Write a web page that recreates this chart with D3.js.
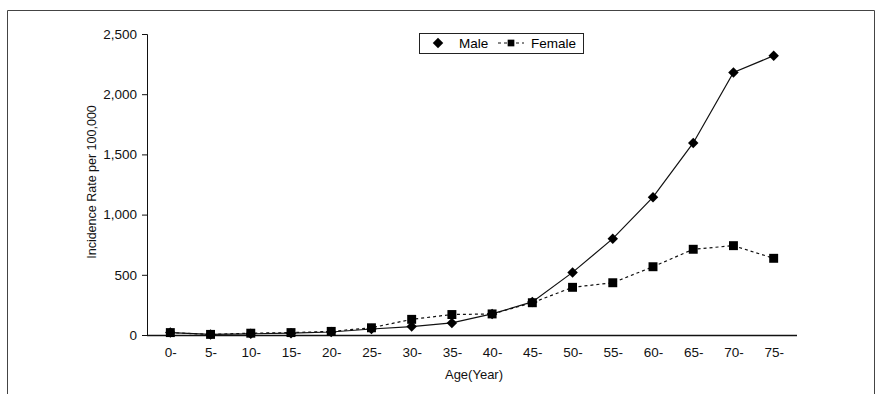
<!DOCTYPE html>
<html>
<head>
<meta charset="utf-8">
<script src="https://cdn.jsdelivr.net/npm/d3@7"></script>
<style>
  body { margin: 0; background: #fff; }
  svg { display: block; font-family: 'Liberation Sans', Arial, sans-serif; }
</style>
</head>
<body>
<svg id="chart" width="881" height="394"></svg>
<script>
// Age groups on the x axis
const ageGroups = ['0-', '5-', '10-', '15-', '20-', '25-', '30-', '35-', '40-', '45-',
  '50-', '55-', '60-', '65-', '70-', '75-'];
// Incidence per 100,000
const maleRates = [20, 5, 10, 15, 25, 50, 70, 100, 175, 275, 520, 800, 1145, 1595, 2180, 2320];
const femaleRates = [20, 5, 15, 20, 30, 60, 130, 170, 175, 268, 396, 434, 567, 712, 742, 637];
const yTicks = [0, 500, 1000, 1500, 2000, 2500];

const svg = d3.select('#chart');

// plot area
const margin = { top: 34, left: 147, right: 84, bottom: 59 };
const width = 881 - margin.left - margin.right;
const height = 394 - margin.top - margin.bottom;

// outer frame (no bottom edge)
svg.append('path')
  .attr('d', 'M7.5,394 V10.5 H874.5 V394')
  .attr('fill', 'none')
  .attr('stroke', '#444')
  .attr('stroke-width', 1);

const g = svg.append('g')
  .attr('transform', 'translate(' + margin.left + ',' + margin.top + ')');

const xScale = d3.scalePoint()
  .domain(ageGroups)
  .range([0, width])
  .padding(0.58);

const yScale = d3.scaleLinear()
  .domain([0, 2500])
  .range([height, 0]);

// y axis
const yAxis = d3.axisLeft(yScale)
  .tickValues(yTicks)
  .tickSize(5)
  .tickPadding(5)
  .tickFormat(d3.format(','));
const yG = g.append('g').call(yAxis);
yG.select('.domain').attr('d', 'M-5,0.5 H0.5 V' + height + '.5');
yG.selectAll('text').attr('font-size', 13.5).attr('fill', '#111');
yG.selectAll('line, path').attr('stroke', '#111');

// x axis
const xAxis = d3.axisBottom(xScale).tickSize(0).tickPadding(12);
const xG = g.append('g')
  .attr('transform', 'translate(0,' + height + ')')
  .call(xAxis);
xG.select('.domain').attr('d', 'M0,0.5 H' + width).attr('stroke', '#111').attr('stroke-width', 1.5);
xG.selectAll('text').attr('font-size', 13.5).attr('fill', '#111');

// axis labels
svg.append('text')
  .attr('transform', 'translate(96,182) rotate(-90)')
  .attr('text-anchor', 'middle')
  .attr('font-size', 12.5)
  .attr('fill', '#111')
  .text('Incidence Rate per 100,000');

svg.append('text')
  .attr('x', 474)
  .attr('y', 379)
  .attr('text-anchor', 'middle')
  .attr('font-size', 13)
  .attr('fill', '#111')
  .text('Age(Year)');

// lines
const line = d3.line()
  .x((d, i) => xScale(ageGroups[i]))
  .y((d) => yScale(d));

g.append('path')
  .datum(femaleRates)
  .attr('d', line)
  .attr('fill', 'none')
  .attr('stroke', '#111')
  .attr('stroke-width', 1.2)
  .attr('stroke-dasharray', '3,3');

g.append('path')
  .datum(maleRates)
  .attr('d', line)
  .attr('fill', 'none')
  .attr('stroke', '#111')
  .attr('stroke-width', 1.2);

const diamond = d3.symbol().type(d3.symbolDiamond2).size(70);
const square = d3.symbol().type(d3.symbolSquare).size(80);

g.append('g')
  .selectAll('path')
  .data(femaleRates)
  .join('path')
  .attr('transform', (d, i) => 'translate(' + xScale(ageGroups[i]) + ',' + yScale(d) + ')')
  .attr('d', square)
  .attr('fill', '#000');

g.append('g')
  .selectAll('path')
  .data(maleRates)
  .join('path')
  .attr('transform', (d, i) => 'translate(' + xScale(ageGroups[i]) + ',' + yScale(d) + ')')
  .attr('d', diamond)
  .attr('fill', '#000');

// legend
const legend = svg.append('g');
legend.append('rect')
  .attr('x', 419.5).attr('y', 33.5)
  .attr('width', 164).attr('height', 20)
  .attr('fill', '#fff')
  .attr('stroke', '#222');
legend.append('path')
  .attr('transform', 'translate(438,43)')
  .attr('d', diamond)
  .attr('fill', '#000');
legend.append('text')
  .attr('x', 459).attr('y', 48)
  .attr('font-size', 13.5)
  .text('Male');
legend.append('line')
  .attr('x1', 498).attr('x2', 524)
  .attr('y1', 43).attr('y2', 43)
  .attr('stroke', '#111')
  .attr('stroke-dasharray', '3,3');
legend.append('path')
  .attr('transform', 'translate(511,43)')
  .attr('d', d3.symbol().type(d3.symbolSquare).size(45))
  .attr('fill', '#000');
legend.append('text')
  .attr('x', 531).attr('y', 48)
  .attr('font-size', 13.5)
  .text('Female');
</script>
</body>
</html>
